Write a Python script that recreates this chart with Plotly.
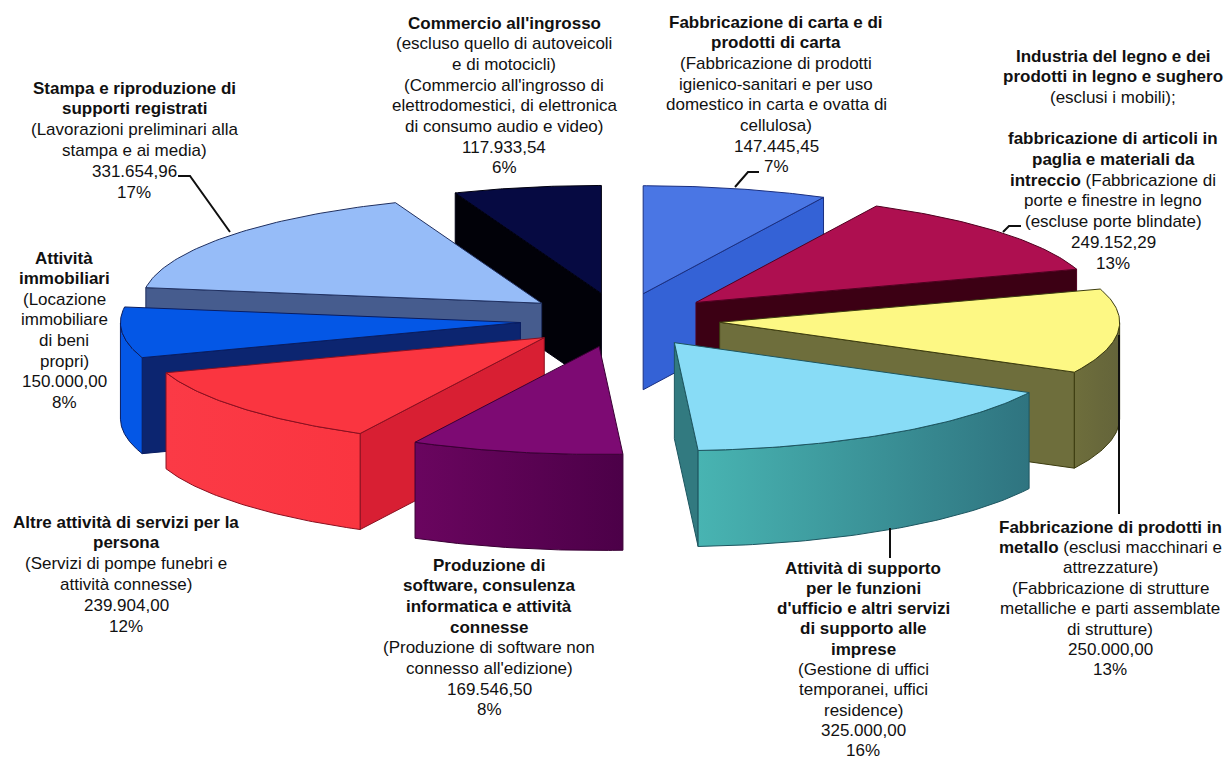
import math
import plotly.graph_objects as go

# Sector values (euro), clockwise from twelve o'clock
sectors = ["carta", "legno", "metallo", "supporto", "software",
           "servizi", "immobiliari", "stampa", "commercio"]
values = [147445.45, 249152.29, 250000.00, 325000.00, 169546.50,
          239904.00, 150000.00, 331654.96, 117933.54]
percent_labels = ["7%", "13%", "13%", "16%", "8%", "12%", "8%", "17%", "6%"]

# Label wording per sector: bold heading lines, then regular lines
label_text = [
    "<b>Fabbricazione di carta e di<br>prodotti di carta</b><br>(Fabbricazione di prodotti<br>igienico-sanitari e per uso<br>domestico in carta e ovatta di<br>cellulosa)",
    "<b>Industria del legno e dei<br>prodotti in legno e sughero</b><br>(esclusi i mobili);<br><br><b>fabbricazione di articoli in<br>paglia e materiali da<br>intreccio</b> (Fabbricazione di<br>porte e finestre in legno<br>(escluse porte blindate)",
    "<b>Fabbricazione di prodotti in<br>metallo</b> (esclusi macchinari e<br>attrezzature)<br>(Fabbricazione di strutture<br>metalliche e parti assemblate<br>di strutture)",
    "<b>Attività di supporto<br>per le funzioni<br>d'ufficio e altri servizi<br>di supporto alle<br>imprese</b><br>(Gestione di uffici<br>temporanei, uffici<br>residence)",
    "<b>Produzione di<br>software, consulenza<br>informatica e attività<br>connesse</b><br>(Produzione di software non<br>connesso all'edizione)",
    "<b>Altre attività di servizi per la<br>persona</b><br>(Servizi di pompe funebri e<br>attività connesse)",
    "<b>Attività<br>immobiliari</b><br>(Locazione<br>immobiliare<br>di beni<br>propri)",
    "<b>Stampa e riproduzione di<br>supporti registrati</b><br>(Lavorazioni preliminari alla<br>stampa e ai media)",
    "<b>Commercio all'ingrosso</b><br>(escluso quello di autoveicoli<br>e di motocicli)<br>(Commercio all'ingrosso di<br>elettrodomestici, di elettronica<br>di consumo audio e video)",
]

# Label anchors: centre x, middle y of the first line, line step
label_pos = [(776, 22, 20.7), (1113, 56, 20.7), (1110, 527, 20.4), (863, 568, 20.3),
             (489, 565, 20.7), (126, 522, 20.8), (64, 258, 20.6), (134, 88, 20.8),
             (504, 23, 20.7)]

# Face colours: top, outer wall (left end, right end), radial wall
top_colors = ["#4a76e4", "#ae0f50", "#fdf884", "#88dcf6", "#7d0a73",
              "#fa3540", "#0457e6", "#96bcf8", "#060a42"]
arc_colors = [("#3a66d8", "#3a66d8"), ("#3c0014", "#3c0014"), ("#6e6e3c", "#64643a"),
              ("#48b4b2", "#2f7480"), ("#6a055f", "#4c0048"), ("#fb3a46", "#fa3540"),
              ("#0457e6", "#0457e6"), ("#4a6496", "#4a6496"), ("#010108", "#010108")]
wall_colors = ["#3462d6", "#3c0014", "#6e6e3c", "#327a80", "#4c0048",
               "#d81f33", "#0c2570", "#465c8e", "#010108"]
edge_colors = ["#1a2f80", "#500020", "#3c3c10", "#1d5660", "#3a0035",
               "#8a1020", "#0a1d60", "#203060", "#000010"]

# Back-to-front painting order
paint_order = [0, 8, 1, 7, 2, 6, 5, 3, 4]

# Pie projection on the page, in pixels
CX, CY = 620, 320
RX, RY = 400, 108
DEPTH = 96
EXPLODE = 0.25


def project(angle, radius, ox, oy, drop=0.0):
    return (ox + RX * radius * math.sin(angle),
            oy - RY * radius * math.cos(angle) + drop)


def face(fig, pts, color, edge, gradient=None):
    xs = [p[0] for p in pts] + [pts[0][0]]
    ys = [p[1] for p in pts] + [pts[0][1]]
    kw = dict(fillcolor=color)
    if gradient:
        kw = dict(fillgradient=dict(type="horizontal",
                                    colorscale=[[0, gradient[0]], [1, gradient[1]]]))
    fig.add_trace(go.Scatter(x=xs, y=ys, mode="lines", fill="toself",
                             line=dict(color=edge, width=1), hoverinfo="skip",
                             showlegend=False, **kw))


def split_lines(markup):
    """Break a label into lines, reopening bold across line breaks."""
    out, bold = [], False
    for part in markup.split("<br>"):
        text = part
        opened = bold
        if "<b>" in text:
            bold = True
        if "</b>" in text:
            bold = False
        if opened:
            text = "<b>" + text
        if bold and "</b>" not in text:
            text = text + "</b>"
        out.append(text)
    return out


fig = go.Figure()
total = sum(values)
starts = []
running = 0.0
for v in values:
    starts.append(running)
    running += v

for i in paint_order:
    a0 = 2 * math.pi * starts[i] / total
    a1 = 2 * math.pi * (starts[i] + values[i]) / total
    mid = (a0 + a1) / 2
    ox, oy = project(mid, EXPLODE, CX, CY)
    n = 60
    angles = [a0 + (a1 - a0) * k / n for k in range(n + 1)]

    # Radial walls facing the viewer
    if math.sin(a0) < 0:
        face(fig, [(ox, oy), project(a0, 1, ox, oy),
                   project(a0, 1, ox, oy, DEPTH), (ox, oy + DEPTH)],
             wall_colors[i], edge_colors[i])
    if math.sin(a1) > 0:
        face(fig, [(ox, oy), project(a1, 1, ox, oy),
                   project(a1, 1, ox, oy, DEPTH), (ox, oy + DEPTH)],
             wall_colors[i], edge_colors[i])

    # Outer wall, only on the front half of the rim
    front = [a for a in angles if math.cos(a) < 0]
    if len(front) > 1:
        upper = [project(a, 1, ox, oy) for a in front]
        lower = [project(a, 1, ox, oy, DEPTH) for a in reversed(front)]
        left_to_right = arc_colors[i]
        face(fig, upper + lower, left_to_right[0], edge_colors[i],
             gradient=left_to_right if left_to_right[0] != left_to_right[1] else None)

    # Top face
    face(fig, [(ox, oy)] + [project(a, 1, ox, oy) for a in angles],
         top_colors[i], edge_colors[i])

# Leader lines from labels to slices
leaders = [
    [(735, 187), (748, 172), (759, 172)],
    [(1003, 232), (1009, 226), (1021, 226)],
    [(1119, 335), (1119, 514)],
    [(890, 528), (890, 558)],
    [(230, 232), (190, 176), (178, 176)],
]
for line in leaders:
    fig.add_trace(go.Scatter(x=[p[0] for p in line], y=[p[1] for p in line],
                             mode="lines", line=dict(color="#101010", width=2),
                             hoverinfo="skip", showlegend=False))

# Labels: description, value in Italian number format, percentage
for i, (x, y, step) in enumerate(label_pos):
    amount = f"{values[i]:,.2f}".replace(",", "X").replace(".", ",").replace("X", ".")
    lines = split_lines(label_text[i]) + [amount, percent_labels[i]]
    for k, line in enumerate(lines):
        if not line:
            continue
        fig.add_annotation(x=x, y=y + k * step, xref="x", yref="y",
                           xanchor="center", yanchor="middle", showarrow=False,
                           text=line,
                           font=dict(family="Liberation Sans", size=17, color="#111111"))

fig.update_layout(
    width=1226, height=762, margin=dict(l=0, r=0, t=0, b=0),
    paper_bgcolor="white", plot_bgcolor="white", showlegend=False,
    xaxis=dict(range=[0, 1226], visible=False, fixedrange=True),
    yaxis=dict(range=[762, 0], visible=False, fixedrange=True),
)
fig.write_html("out.html")
